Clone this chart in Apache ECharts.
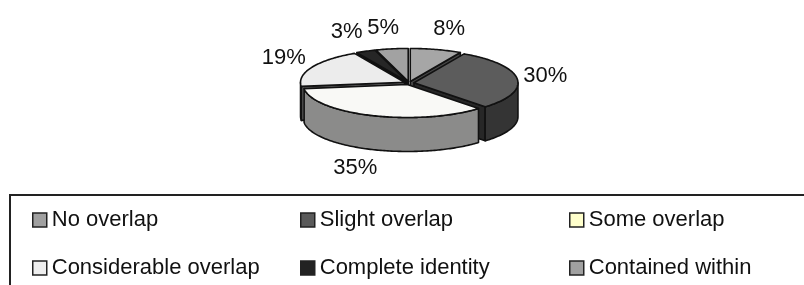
<!DOCTYPE html>
<html>
<head>
<meta charset="utf-8">
<script src="https://cdn.jsdelivr.net/npm/echarts@6/dist/echarts.min.js"></script>
<style>
html, body { margin: 0; padding: 0; background: #fff; }
#chart { width: 804px; height: 285px; }
</style>
</head>
<body>
<div id="chart"></div>
<script>
// categories / values of the pie
var categories = ['No overlap', 'Slight overlap', 'Some overlap', 'Considerable overlap', 'Complete identity', 'Contained within'];
var values = [8, 30, 35, 19, 3, 5];
var sliceColors = ['#a6a6a6', '#5c5c5c', '#f9f9f6', '#ececec', '#262626', '#a2a2a2'];
var legendColors = ['#a0a0a0', '#5a5a5a', '#ffffcc', '#eeeeee', '#222222', '#a0a0a0'];
var legendColumns = [[0, 3], [1, 4], [2, 5]];

// geometry of the flat 3d pie
var cx = 409, cy = 83, rx = 104, ry = 33, depth = 34, explode = 5;
var font = '"Liberation Sans", Arial, sans-serif';

var total = 0;
var starts = [];
for (var k = 0; k < values.length; k++) {
    starts.push(total);
    total += values[k];
}

function shade(hex, f) {
    var n = parseInt(hex.slice(1), 16);
    var r = Math.round(((n >> 16) & 255) * f);
    var g = Math.round(((n >> 8) & 255) * f);
    var b = Math.round((n & 255) * f);
    return 'rgb(' + r + ',' + g + ',' + b + ')';
}

function pt(a, ox, oy, dy) {
    return [cx + ox + rx * Math.sin(a), cy + oy - ry * Math.cos(a) + dy];
}

function arc(a0, a1, ox, oy, dy) {
    var steps = Math.max(2, Math.ceil((a1 - a0) / (Math.PI / 180)));
    var pts = [];
    for (var s = 0; s <= steps; s++) {
        pts.push(pt(a0 + (a1 - a0) * s / steps, ox, oy, dy));
    }
    return pts;
}

function makeRender(i) {
    return function (params, api) {
        var v = api.value(0);
        var a0 = starts[i] / total * 2 * Math.PI;
        var a1 = a0 + v / total * 2 * Math.PI;
        var mid = (a0 + a1) / 2;
        var ox = explode * Math.sin(mid);
        var oy = -explode * Math.cos(mid) * ry / rx;
        var c = [cx + ox, cy + oy];
        var cb = [c[0], c[1] + depth];
        var col = sliceColors[i];
        var children = [];

        // radial cut faces that look at the viewer
        var faces = [[a0, a0 - Math.PI / 2], [a1, a1 + Math.PI / 2]];
        faces.forEach(function (f) {
            if (Math.cos(f[1]) < -0.01) {
                children.push({
                    type: 'polygon',
                    shape: { points: [c, pt(f[0], ox, oy, 0), pt(f[0], ox, oy, depth), cb] },
                    style: { fill: shade(col, 0.42), stroke: '#111', lineWidth: 1.6, lineJoin: 'round' }
                });
            }
        });

        // front part of the outer wall
        var w0 = Math.max(a0, Math.PI / 2);
        var w1 = Math.min(a1, 1.5 * Math.PI);
        if (w1 > w0) {
            var wall = arc(w0, w1, ox, oy, 0).concat(arc(w0, w1, ox, oy, depth).reverse());
            children.push({
                type: 'polygon',
                shape: { points: wall },
                style: { fill: shade(col, 0.56), stroke: '#111', lineWidth: 1.6, lineJoin: 'round' }
            });
        }

        // top face
        children.push({
            type: 'polygon',
            shape: { points: [c].concat(arc(a0, a1, ox, oy, 0)) },
            style: { fill: col, stroke: '#111', lineWidth: 1.6, lineJoin: 'round' }
        });

        // percent label
        var sn = Math.sin(mid), cs = Math.cos(mid);
        var lr = 170 - 33 * Math.abs(sn);
        children.push({
            type: 'text',
            style: {
                text: Math.round(v / total * 100) + '%',
                x: cx + lr * sn,
                y: cy - 56 * cs + (cs < 0 ? -cs * depth : 0),
                fill: '#111',
                fontSize: 22,
                fontFamily: font,
                align: 'center',
                verticalAlign: 'middle'
            }
        });

        return { type: 'group', children: children };
    };
}

// back to front drawing order
var order = categories.map(function (n, i) {
    var mid = (starts[i] + values[i] / 2) / total * 2 * Math.PI;
    return { i: i, d: -Math.cos(mid) };
}).sort(function (a, b) { return a.d - b.d; });
var rank = [];
order.forEach(function (o, r) { rank[o.i] = r; });

var series = categories.map(function (name, i) {
    return {
        name: name,
        type: 'custom',
        coordinateSystem: 'none',
        z: 2 + rank[i],
        silent: true,
        animation: false,
        itemStyle: { color: sliceColors[i] },
        renderItem: makeRender(i),
        data: [values[i]]
    };
});

var legends = legendColumns.map(function (col, j) {
    return {
        orient: 'vertical',
        left: [32, 300, 569][j],
        top: 209,
        width: 250,
        height: 120,
        padding: 0,
        icon: 'rect',
        itemWidth: 14,
        itemHeight: 14,
        itemGap: 26,
        selectedMode: false,
        itemStyle: { borderColor: '#222', borderWidth: 1.5 },
        textStyle: { fontSize: 22, fontFamily: font, color: '#111', lineHeight: 22 },
        data: col.map(function (i) {
            return { name: categories[i], itemStyle: { color: legendColors[i] } };
        })
    };
});

var myChart = echarts.init(document.getElementById('chart'));
var option = {
    backgroundColor: '#fff',
    animation: false,
    legend: legends,
    graphic: [{
        type: 'rect',
        shape: { x: 10, y: 195, width: 820, height: 140 },
        style: { fill: 'none', stroke: '#222', lineWidth: 2 },
        silent: true
    }],
    series: series
};
myChart.setOption(option);
</script>
</body>
</html>
